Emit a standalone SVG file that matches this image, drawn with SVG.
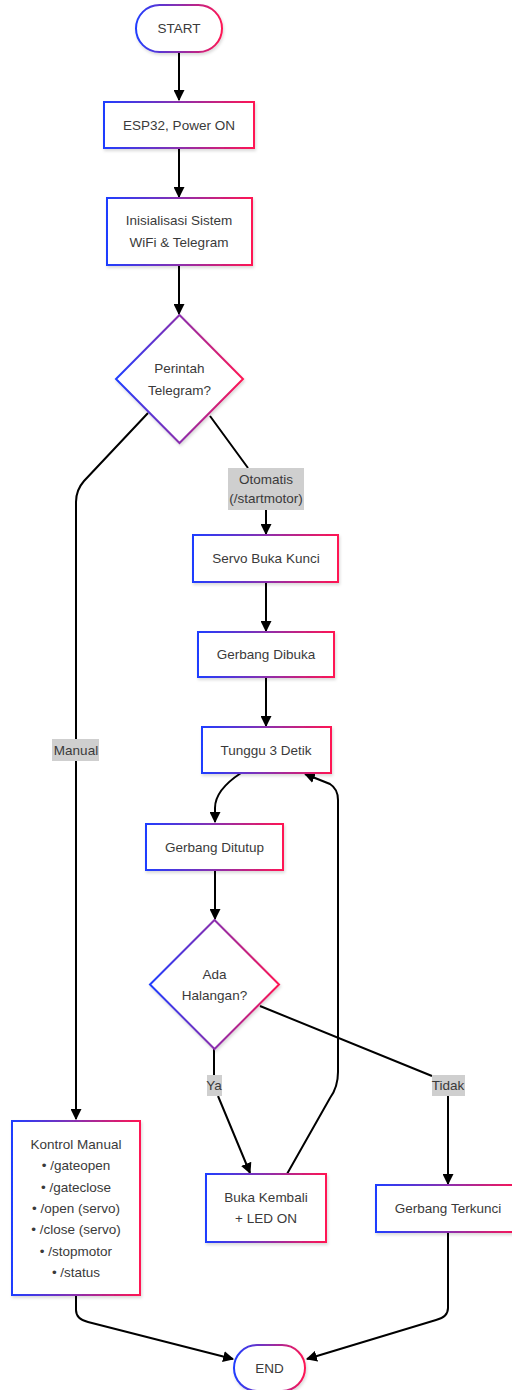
<svg xmlns="http://www.w3.org/2000/svg" width="512" height="1390" viewBox="0 0 512 1390">
<defs>
<linearGradient id="g" x1="0" y1="0" x2="1" y2="0">
<stop offset="0" stop-color="#1f3dff"/>
<stop offset="0.5" stop-color="#8b2fae"/>
<stop offset="1" stop-color="#ff1553"/>
</linearGradient>
<filter id="sh" x="-10%" y="-10%" width="130%" height="130%">
<feDropShadow dx="1" dy="2" stdDeviation="1.5" flood-color="#000" flood-opacity="0.15"/>
</filter>
<marker id="ah" viewBox="0 0 10 10" refX="9" refY="5" markerWidth="11" markerHeight="11" orient="auto-start-reverse" markerUnits="userSpaceOnUse">
<path d="M0,0 L10,5 L0,10 z" fill="#000"/>
</marker>
<style>
.n{fill:#fff;stroke:url(#g);stroke-width:2;filter:url(#sh)}
.t{font-family:"Liberation Sans",Arial,sans-serif;font-size:13.5px;fill:#3a3a3a;text-anchor:middle}
.e{fill:none;stroke:#000;stroke-width:2}
.lb{fill:#cfcfcf}
</style>
</defs>
<g id="connectors">
<path class="e" d="M179,52 V100" marker-end="url(#ah)"/>
<path class="e" d="M179,148 V197" marker-end="url(#ah)"/>
<path class="e" d="M179,265 V314" marker-end="url(#ah)"/>
<path class="e" d="M148,413 L84,481 Q76,490 76,502 V1119" marker-end="url(#ah)"/>
<path class="e" d="M210,416 L248,468 M266,510 V534" marker-end="url(#ah)"/>
<path class="e" d="M266,582 V631" marker-end="url(#ah)"/>
<path class="e" d="M266,677 V726" marker-end="url(#ah)"/>
<path class="e" d="M241,773 Q215,790 215,808 V822" marker-end="url(#ah)"/>
<path class="e" d="M215,870 V919" marker-end="url(#ah)"/>
<path class="e" d="M214,1049 V1075 M218,1096 L250,1173" marker-end="url(#ah)"/>
<path class="e" d="M260,1006 L432,1076 M448,1096 V1184" marker-end="url(#ah)"/>
<path class="e" d="M287,1174 L330,1098 Q338,1087 338,1072 V800 Q338,789 330,784 L305,774" marker-end="url(#ah)"/>
<path class="e" d="M76,1295 V1310 Q76,1319 88,1322 L233,1359" marker-end="url(#ah)"/>
<path class="e" d="M448,1232 V1308 Q448,1317 436,1320 L307,1359" marker-end="url(#ah)"/>
<rect class="lb" x="52" y="739" width="47" height="22"/>
<text class="t" x="76" y="755">Manual</text>
<rect class="lb" x="228" y="468" width="76" height="42"/>
<text class="t" x="266" y="484">Otomatis</text>
<text class="t" x="266" y="503">(/startmotor)</text>
<rect class="lb" x="207" y="1075" width="15" height="21"/>
<text class="t" x="214" y="1090">Ya</text>
<rect class="lb" x="432" y="1075" width="33" height="21"/>
<text class="t" x="448" y="1090">Tidak</text>
</g>
<g id="start">
<rect class="n" x="136" y="5" width="86" height="47" rx="23.5"/>
<text class="t" x="179" y="33">START</text>
</g>
<g id="esp32">
<rect class="n" x="104" y="102" width="150" height="46"/>
<text class="t" x="179" y="130">ESP32, Power ON</text>
</g>
<g id="init">
<rect class="n" x="107" y="198" width="145" height="67"/>
<text class="t" x="179" y="225">Inisialisasi Sistem</text>
<text class="t" x="179" y="247">WiFi &amp; Telegram</text>
</g>
<g id="perintah">
<polygon class="n" points="179.5,315 243,379 179.5,443 116,379"/>
<text class="t" x="179.5" y="373">Perintah</text>
<text class="t" x="179.5" y="395">Telegram?</text>
</g>
<g id="servo">
<rect class="n" x="193" y="535" width="145" height="47"/>
<text class="t" x="266" y="563">Servo Buka Kunci</text>
</g>
<g id="dibuka">
<rect class="n" x="198" y="632" width="136" height="45"/>
<text class="t" x="266" y="659">Gerbang Dibuka</text>
</g>
<g id="tunggu">
<rect class="n" x="202" y="727" width="129" height="46"/>
<text class="t" x="266" y="755">Tunggu 3 Detik</text>
</g>
<g id="ditutup">
<rect class="n" x="146" y="824" width="137" height="46"/>
<text class="t" x="214.5" y="852">Gerbang Ditutup</text>
</g>
<g id="halangan">
<polygon class="n" points="214.5,920 279,984.5 214.5,1049 150,984.5"/>
<text class="t" x="214.5" y="979">Ada</text>
<text class="t" x="214.5" y="1000">Halangan?</text>
</g>
<g id="kontrol">
<rect class="n" x="12" y="1121" width="128" height="174"/>
<text class="t" x="76" y="1149">Kontrol Manual</text>
<text class="t" x="76" y="1170">• /gateopen</text>
<text class="t" x="76" y="1192">• /gateclose</text>
<text class="t" x="76" y="1213">• /open (servo)</text>
<text class="t" x="76" y="1234">• /close (servo)</text>
<text class="t" x="76" y="1256">• /stopmotor</text>
<text class="t" x="76" y="1277">• /status</text>
</g>
<g id="buka">
<rect class="n" x="206" y="1174" width="120" height="68"/>
<text class="t" x="266" y="1202">Buka Kembali</text>
<text class="t" x="266" y="1223">+ LED ON</text>
</g>
<g id="terkunci">
<rect class="n" x="376" y="1185" width="144" height="47"/>
<text class="t" x="448" y="1213">Gerbang Terkunci</text>
</g>
<g id="end">
<rect class="n" x="234" y="1345" width="71" height="46" rx="23"/>
<text class="t" x="269.5" y="1373">END</text>
</g>
</svg>
